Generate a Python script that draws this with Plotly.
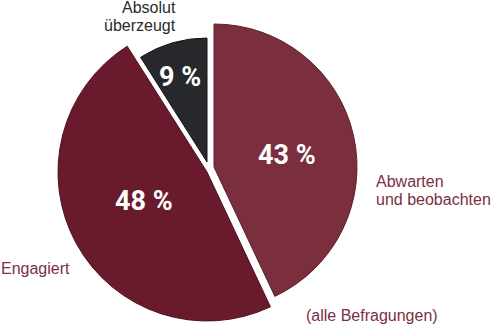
import plotly.graph_objects as go

# ---- data ----
categories = ["Abwarten und beobachten", "Engagiert", "Absolut überzeugt"]
values = [43, 48, 9]
label_lines = [["Abwarten", "und beobachten"], ["Engagiert"], ["Absolut", "überzeugt"]]
note = "(alle Befragungen)"

# ---- styles ----
slice_colors = ["#7a2e3e", "#6a1a2d", "#26282b"]
edge_colors = ["#5e1f2c", "#4e1020", "#141516"]
W, H = 500, 324
# per-slice apex (px) and radius (px)
geo = [(214, 167, 143), (207, 172, 149), (207, 162, 124)]
pct_pos = [(287, 155), (144, 201), (180, 77)]
label_pos = [
    [(375, 181.5, "left"), (375, 199.5, "left")],
    [(0, 268.5, "left")],
    [(177, 7.5, "right"), (177, 25.5, "right")],
]
label_colors = ["#7b3043", "#7b3043", "#2b2b2b"]
TRANSP = "rgba(0,0,0,0)"

fig = go.Figure()
for i, (cx, cy, r) in enumerate(geo):
    cols = [slice_colors[j] if j == i else TRANSP for j in range(len(values))]
    lcols = [edge_colors[j] if j == i else TRANSP for j in range(len(values))]
    fig.add_trace(go.Pie(
        labels=categories, values=values, sort=False, direction="clockwise",
        rotation=0, textinfo="none", hoverinfo="skip",
        marker=dict(colors=cols, line=dict(color=lcols, width=1)),
        domain=dict(x=[(cx - r) / W, (cx + r) / W],
                    y=[1 - (cy + r) / H, 1 - (cy - r) / H]),
        showlegend=False,
    ))

pct_font = dict(family="Roboto, sans-serif", size=27, color="white", weight=700)
for v, (px, py) in zip(values, pct_pos):
    fig.add_annotation(text=f"{v} %", x=px / W, y=1 - py / H, xref="paper", yref="paper",
                       xanchor="center", yanchor="middle", showarrow=False, font=pct_font)

for lines, poss, col in zip(label_lines, label_pos, label_colors):
    for line, (px, py, anc) in zip(lines, poss):
        fig.add_annotation(text=line, x=px / W, y=1 - py / H, xref="paper", yref="paper",
                           xanchor=anc, yanchor="middle", showarrow=False, borderpad=0,
                           font=dict(family="Liberation Sans, Arial, sans-serif", size=16, color=col))

fig.add_annotation(text=note, x=305 / W, y=1 - 315.5 / H, xref="paper", yref="paper",
                   xanchor="left", yanchor="middle", showarrow=False, borderpad=0,
                   font=dict(family="Liberation Sans, Arial, sans-serif", size=16, color="#7b3043"))

fig.update_layout(width=W, height=H, margin=dict(l=0, r=0, t=0, b=0),
                  paper_bgcolor="white", plot_bgcolor="white", showlegend=False)
fig.write_html("out.html")
